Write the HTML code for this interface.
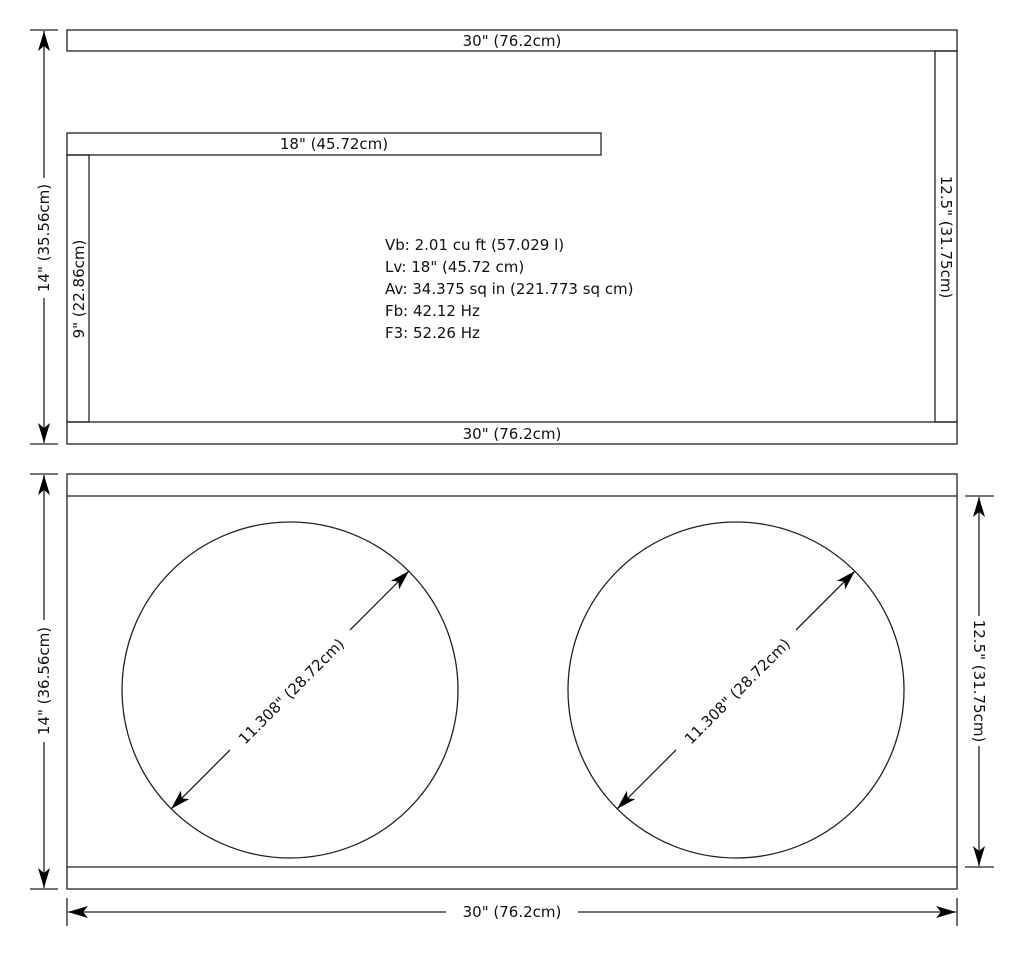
<!DOCTYPE html>
<html><head><style>
html,body{margin:0;padding:0;background:#fff;}
svg{display:block;}
text{font-family:"DejaVu Sans","Liberation Sans",sans-serif;font-size:15px;fill:#111;}
</style></head><body>
<svg width="1024" height="957" viewBox="0 0 1024 957" xmlns="http://www.w3.org/2000/svg">
<defs>
<marker id="ah" viewBox="0 0 20 12" refX="20" refY="6" markerWidth="20" markerHeight="12" markerUnits="userSpaceOnUse" orient="auto">
<path d="M0,0 L20,6 L0,12 L5,6 Z" fill="#000"/>
</marker>
</defs>
<g fill="none" stroke="#222" stroke-width="1.3">
<rect x="67" y="30" width="890" height="21"/>
<rect x="67" y="133" width="534" height="22"/>
<rect x="67" y="155" width="22" height="267"/>
<rect x="935" y="51" width="22" height="371"/>
<rect x="67" y="422" width="890" height="22"/>
<line x1="30" y1="30" x2="58" y2="30"/>
<line x1="30" y1="444" x2="58" y2="444"/>
<line x1="44" y1="178" x2="44" y2="31" marker-end="url(#ah)"/>
<line x1="44" y1="298" x2="44" y2="443" marker-end="url(#ah)"/>
<rect x="67" y="474" width="890" height="415"/>
<line x1="67" y1="496" x2="957" y2="496"/>
<line x1="67" y1="867" x2="957" y2="867"/>
<line x1="30" y1="474" x2="58" y2="474"/>
<line x1="30" y1="889" x2="58" y2="889"/>
<line x1="44" y1="620" x2="44" y2="475" marker-end="url(#ah)"/>
<line x1="44" y1="742" x2="44" y2="888" marker-end="url(#ah)"/>
<line x1="965" y1="496" x2="994" y2="496"/>
<line x1="965" y1="867" x2="994" y2="867"/>
<line x1="979" y1="616" x2="979" y2="497" marker-end="url(#ah)"/>
<line x1="979" y1="746" x2="979" y2="866" marker-end="url(#ah)"/>
<line x1="67" y1="898" x2="67" y2="926"/>
<line x1="957" y1="898" x2="957" y2="926"/>
<line x1="446" y1="912" x2="68" y2="912" marker-end="url(#ah)"/>
<line x1="578" y1="912" x2="956" y2="912" marker-end="url(#ah)"/>
<circle cx="290" cy="690" r="168"/>
<circle cx="736" cy="690" r="168"/>
<line x1="350" y1="630" x2="409" y2="571" marker-end="url(#ah)"/>
<line x1="230" y1="750" x2="171" y2="809" marker-end="url(#ah)"/>
<line x1="796" y1="630" x2="855" y2="571" marker-end="url(#ah)"/>
<line x1="676" y1="750" x2="617" y2="809" marker-end="url(#ah)"/>
</g>
<g text-anchor="middle">
<text x="512" y="46">30" (76.2cm)</text>
<text x="334" y="149">18" (45.72cm)</text>
<text x="512" y="439">30" (76.2cm)</text>
<text transform="translate(84,289) rotate(-90)">9" (22.86cm)</text>
<text transform="translate(941,237) rotate(90)">12.5" (31.75cm)</text>
<text transform="translate(49,238) rotate(-90)">14" (35.56cm)</text>
<text transform="translate(49,681) rotate(-90)">14" (36.56cm)</text>
<text transform="translate(974,681) rotate(90)">12.5" (31.75cm)</text>
<text x="512" y="917">30" (76.2cm)</text>
<text transform="translate(295,695) rotate(-45)">11.308" (28.72cm)</text>
<text transform="translate(741,695) rotate(-45)">11.308" (28.72cm)</text>
</g>
<g>
<text x="385" y="250">Vb: 2.01 cu ft (57.029 l)</text>
<text x="385" y="272">Lv: 18" (45.72 cm)</text>
<text x="385" y="294">Av: 34.375 sq in (221.773 sq cm)</text>
<text x="385" y="316">Fb: 42.12 Hz</text>
<text x="385" y="338">F3: 52.26 Hz</text>
</g>
</svg>
</body></html>
